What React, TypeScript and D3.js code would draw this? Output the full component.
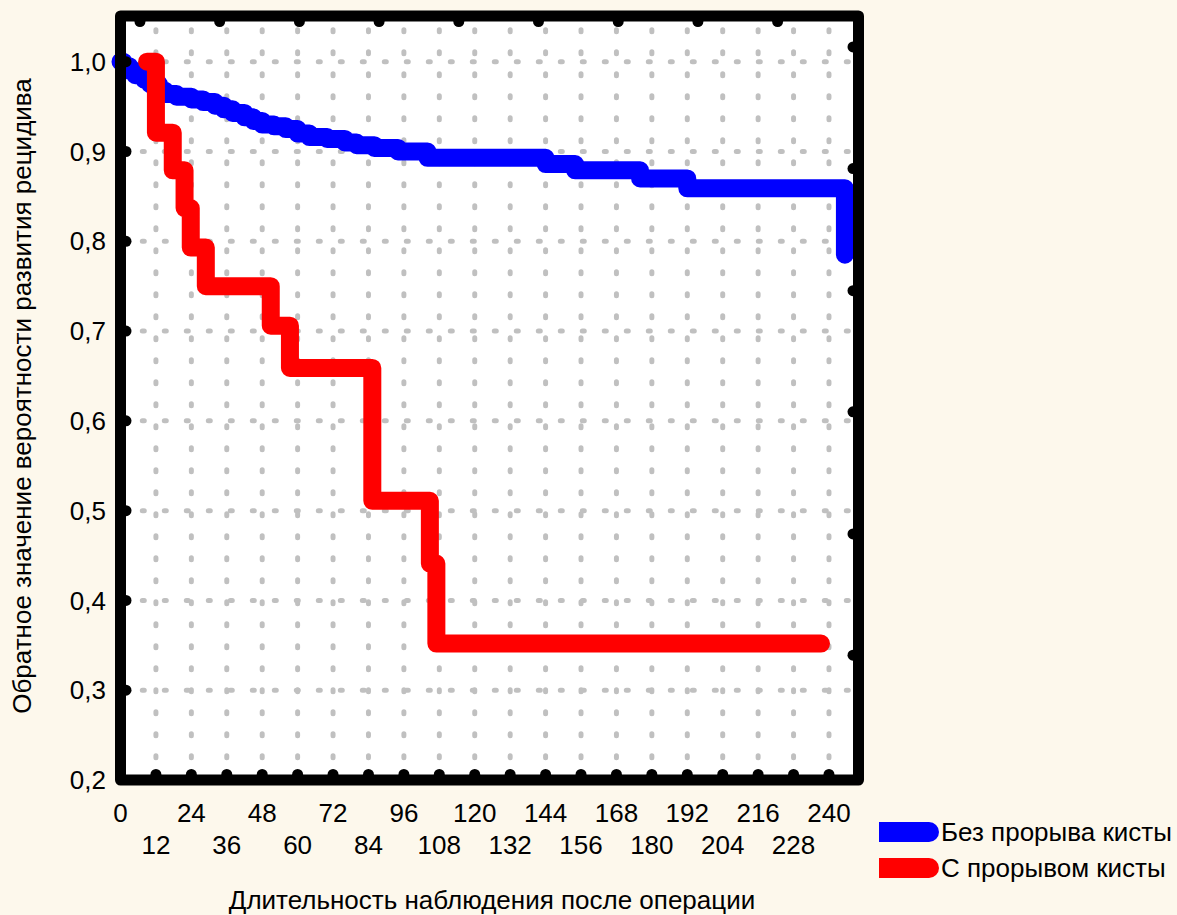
import React from "react";
import * as d3 from "d3";

const xTicks = [0, 12, 24, 36, 48, 60, 72, 84, 96, 108, 120, 132, 144, 156, 168, 180, 192, 204, 216, 228, 240];
const yTicks = [0.2, 0.3, 0.4, 0.5, 0.6, 0.7, 0.8, 0.9, 1.0];
const topAxisTicks = [6.6, 33.6, 60.6, 87.6, 114.6, 141.6, 168.6, 195.6, 222.6];
const rightAxisTicks = [1.0164, 0.881, 0.745, 0.61, 0.474, 0.339];

const blueTimes = [0, 1, 3, 5, 8, 10, 13, 15, 19, 24, 28, 32, 35, 38, 42, 45, 48, 52, 56, 60, 64, 70, 76, 80, 86, 94, 104, 144, 154, 176, 192, 245.4];
const blueValues = [1.0, 0.995, 0.99, 0.985, 0.98, 0.975, 0.968, 0.964, 0.961, 0.958, 0.955, 0.951, 0.947, 0.943, 0.938, 0.934, 0.93, 0.928, 0.925, 0.92, 0.916, 0.914, 0.91, 0.907, 0.904, 0.9, 0.893, 0.886, 0.879, 0.87, 0.859, 0.785];

const redTimes = [9, 12, 17.7, 21.7, 23.8, 28.9, 50.9, 57.4, 85.3, 104.8, 107, 237.3];
const redValues = [1.0, 0.921, 0.879, 0.837, 0.793, 0.75, 0.706, 0.659, 0.511, 0.441, 0.352, 0.352];

const seriesNames = ["Без прорыва кисты", "С прорывом кисты"];
const seriesColors = ["#0000ff", "#ff0000"];

const xTitle = "Длительность наблюдения после операции";
const yTitle = "Обратное значение вероятности развития рецидива";

const W = 1177;
const H = 915;
const FONT = "'Liberation Sans', Arial, sans-serif";

export default function App() {
  const left = 120.5, right = 858.5, top = 16, bottom = 780;
  const x = d3.scaleLinear().domain([0, 250]).range([left, right]);
  const y = d3.scaleLinear().domain([0.2, 1.0509]).range([bottom, top]);
  const bw = 11;

  const line = d3
    .line<[number, number]>()
    .x((d) => x(d[0]))
    .y((d) => y(d[1]))
    .curve(d3.curveStepAfter);

  const blue = blueTimes.map((t, i) => [t, blueValues[i]] as [number, number]);
  const red = redTimes.map((t, i) => [t, redValues[i]] as [number, number]);

  const gridColor = "#c0c0c0";
  const fs = 26;

  return (
    <svg width={W} height={H} style={{ display: "block", position: "absolute", left: 0, top: 0 }}>
      <rect x={0} y={0} width={W} height={H} fill="#fdf8ec" />
      <rect x={left} y={top} width={right - left} height={bottom - top} fill="#ffffff" />
      {/* vertical dotted grid */}
      {xTicks.filter((t) => t > 0).map((t) => (
        <line
          key={"vg" + t}
          x1={x(t)}
          x2={x(t)}
          y1={bottom}
          y2={top}
          stroke={gridColor}
          strokeWidth={5}
          strokeLinecap="round"
          strokeDasharray="2 20"
          strokeDashoffset={-0.3}
        />
      ))}
      {/* horizontal dotted grid */}
      {yTicks.filter((t) => t > 0.2).map((t) => (
        <line
          key={"hg" + t}
          x1={left}
          x2={right}
          y1={y(t)}
          y2={y(t)}
          stroke={gridColor}
          strokeWidth={5}
          strokeLinecap="round"
          strokeDasharray="2 20"
          strokeDashoffset={0.2}
        />
      ))}
      {/* curves */}
      <path d={line(blue) || ""} fill="none" stroke={seriesColors[0]} strokeWidth={18} strokeLinejoin="round" strokeLinecap="round" />
      <path d={line(red) || ""} fill="none" stroke={seriesColors[1]} strokeWidth={18} strokeLinejoin="round" strokeLinecap="round" />
      {/* frame */}
      <rect
        x={left}
        y={top}
        width={right - left}
        height={bottom - top}
        fill="none"
        stroke="#000"
        strokeWidth={bw}
        strokeLinejoin="round"
      />
      {/* tick dots */}
      {xTicks.filter((t) => t > 0).map((t) => (
        <circle key={"bd" + t} cx={x(t)} cy={bottom - bw / 2} r={5.5} fill="#000" />
      ))}
      {yTicks.filter((t) => t > 0.2).map((t) => (
        <circle key={"ld" + t} cx={left + bw / 2} cy={y(t)} r={5.5} fill="#000" />
      ))}
      {topAxisTicks.map((t) => (
        <circle key={"td" + t} cx={x(t)} cy={top + bw / 2} r={5.5} fill="#000" />
      ))}
      {rightAxisTicks.map((t) => (
        <circle key={"rd" + t} cx={right - bw / 2} cy={y(t)} r={5.5} fill="#000" />
      ))}
      {/* y tick labels */}
      {yTicks.map((t) => (
        <text
          key={"yl" + t}
          x={106}
          y={y(t)}
          dy="0.35em"
          textAnchor="end"
          fontFamily={FONT}
          fontSize={fs}
          fill="#000"
        >
          {t.toFixed(1).replace(".", ",")}
        </text>
      ))}
      {/* x tick labels */}
      {xTicks.map((t, i) => (
        <text
          key={"xl" + t}
          x={x(t)}
          y={i % 2 === 0 ? 813 : 845}
          dy="0.35em"
          textAnchor="middle"
          fontFamily={FONT}
          fontSize={fs}
          fill="#000"
        >
          {String(t)}
        </text>
      ))}
      {/* titles */}
      <text x={492} y={900} dy="0.35em" textAnchor="middle" fontFamily={FONT} fontSize={fs} fill="#000">
        {xTitle}
      </text>
      <text
        transform={`translate(22,396) rotate(-90)`}
        dy="0.35em"
        textAnchor="middle"
        fontFamily={FONT}
        fontSize={fs}
        fill="#000"
      >
        {yTitle}
      </text>
      {/* legend */}
      {seriesNames.map((name, i) => {
        const cy = 832 + i * 36;
        const x0 = 879;
        const x1 = 939;
        const h = 20;
        const r = h / 2;
        return (
          <g key={"lg" + i}>
            <path
              d={`M${x0},${cy - r} L${x1 - r},${cy - r} A${r},${r} 0 0 1 ${x1 - r},${cy + r} L${x0},${cy + r} Z`}
              fill={seriesColors[i]}
            />
            <text x={x1 + 2} y={cy} dy="0.35em" fontFamily={FONT} fontSize={fs} fill="#000">
              {name}
            </text>
          </g>
        );
      })}
    </svg>
  );
}
